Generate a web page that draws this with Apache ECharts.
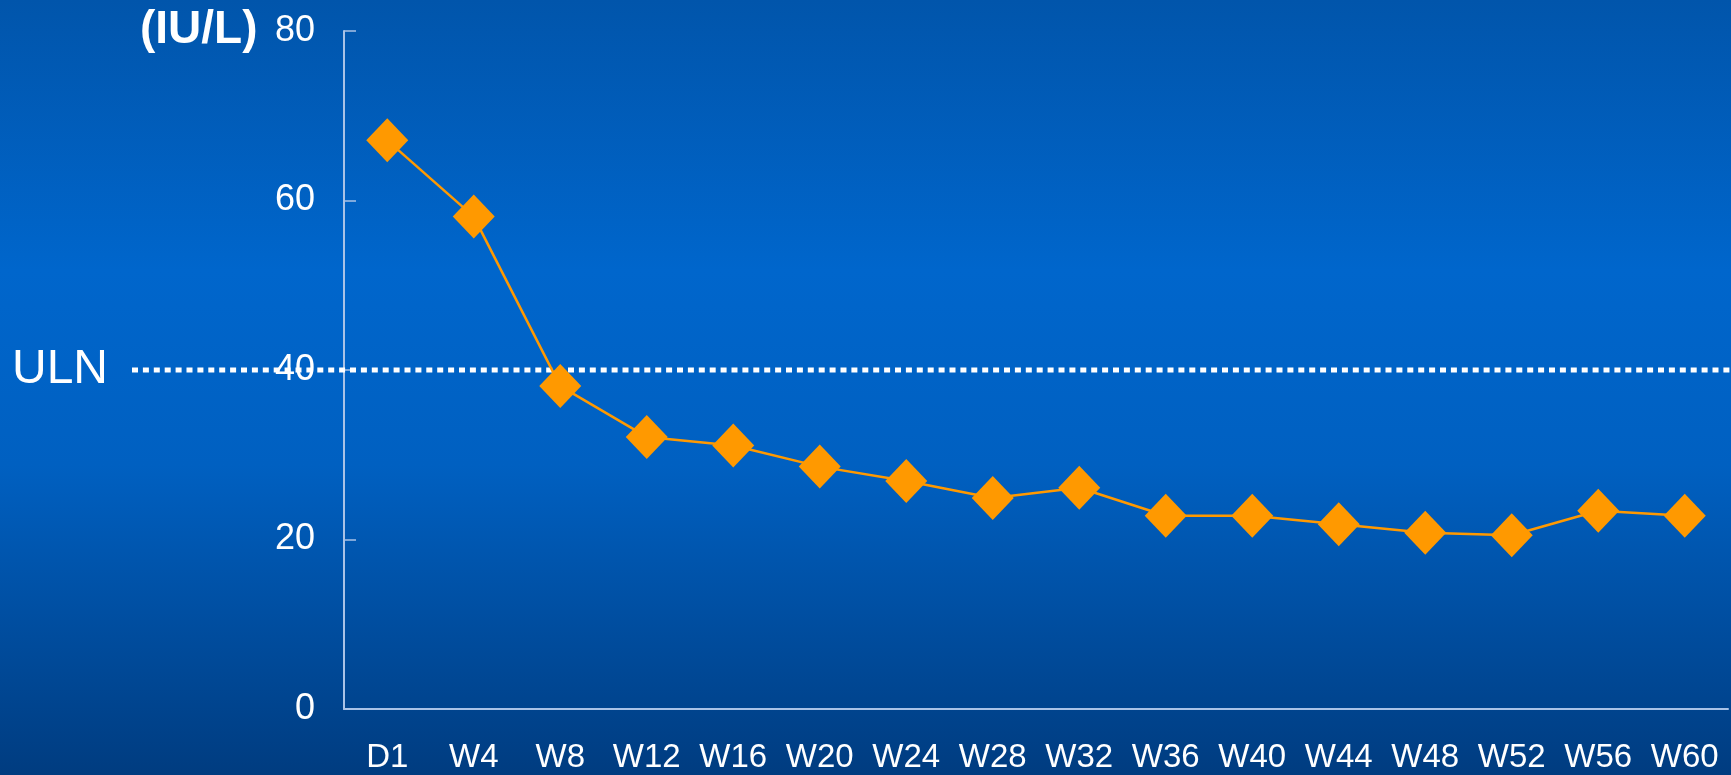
<!DOCTYPE html>
<html>
<head>
<meta charset="utf-8">
<title>ALT over time</title>
<script src="https://cdn.jsdelivr.net/npm/echarts@6/dist/echarts.min.js"></script>
<style>
  html, body { margin: 0; padding: 0; }
  #chart { width: 1731px; height: 775px; }
</style>
</head>
<body>
<div id="chart"></div>
<script>
// visits along the x axis
var categories = ['D1','W4','W8','W12','W16','W20','W24','W28','W32','W36','W40','W44','W48','W52','W56','W60'];
// mean values (IU/L)
var values = [67.1, 58.1, 38.1, 32.1, 31.1, 28.6, 26.9, 24.9, 26.1, 22.8, 22.8, 21.8, 20.8, 20.5, 23.4, 22.8];
// y axis ticks
var yTicks = [0, 20, 40, 60, 80];
// upper limit of normal
var ULN = 40;

var labelFont = '"Liberation Sans", Arial, sans-serif';
var axisColor = '#a9c2e6';

var myChart = echarts.init(document.getElementById('chart'));

var option = {
    animation: false,
    backgroundColor: {
        type: 'linear', x: 0, y: 0, x2: 0, y2: 1,
        colorStops: [
            {offset: 0, color: '#0155ab'},
            {offset: 0.35, color: '#0066cc'},
            {offset: 0.6, color: '#0060c1'},
            {offset: 1, color: '#003c80'}
        ]
    },
    grid: {
        left: 344,
        right: 3,
        top: 31,
        bottom: 66
    },
    xAxis: {
        type: 'category',
        data: categories,
        boundaryGap: true,
        axisLine: { lineStyle: { color: axisColor, width: 2 } },
        axisTick: { inside: true, length: 11, lineStyle: { color: axisColor, width: 1.5 } },
        axisLabel: {
            color: '#ffffff',
            fontFamily: labelFont,
            fontSize: 33,
            margin: 32,
            interval: 0
        }
    },
    yAxis: {
        type: 'value',
        min: yTicks[0],
        max: yTicks[yTicks.length - 1],
        interval: yTicks[1] - yTicks[0],
        splitLine: { show: false },
        axisLine: { show: true, lineStyle: { color: axisColor, width: 2 } },
        axisTick: { show: true, inside: true, length: 12, lineStyle: { color: axisColor, width: 1.5 } },
        axisLabel: {
            color: '#ffffff',
            fontFamily: labelFont,
            fontSize: 36,
            margin: 29
        }
    },
    series: [
        {
            type: 'line',
            data: values,
            symbol: 'diamond',
            symbolSize: [42, 44],
            itemStyle: { color: '#ff9900' },
            lineStyle: { color: '#ff9900', width: 2.5 },
            z: 5
        }
    ]
};

myChart.setOption(option);

// ULN reference line runs past the axis, so draw it as a graphic at the axis position of ULN
var ulnY = myChart.convertToPixel({yAxisIndex: 0}, ULN);
myChart.setOption({
    graphic: [
        {
            type: 'line',
            z: 3,
            shape: { x1: 132, y1: ulnY, x2: 1731, y2: ulnY },
            style: { stroke: '#ffffff', lineWidth: 5, lineDash: [6, 4.9] }
        },
        {
            type: 'text',
            left: 12,
            top: ulnY - 24,
            style: {
                text: 'ULN',
                fill: '#ffffff',
                font: '48px "Liberation Sans", Arial, sans-serif'
            }
        },
        {
            type: 'text',
            left: 140,
            top: 7,
            style: {
                text: '(IU/L)',
                fill: '#ffffff',
                font: 'bold 46px "Liberation Sans", Arial, sans-serif'
            }
        }
    ]
});
</script>
</body>
</html>
